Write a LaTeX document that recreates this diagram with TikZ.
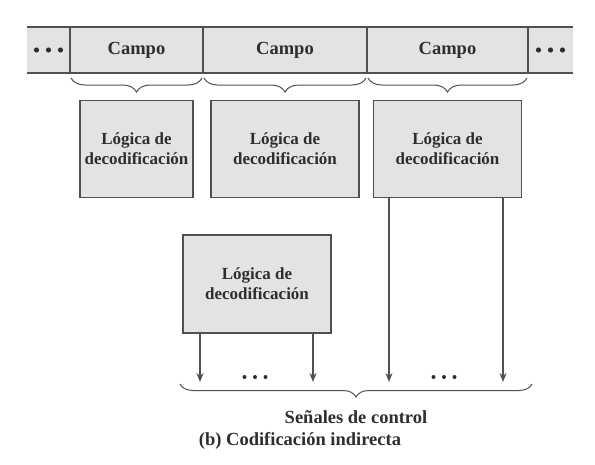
\documentclass[tikz,border=0pt]{standalone}
\usepackage{fontspec}
\setmainfont{Liberation Serif}
\usetikzlibrary{arrows.meta,calc,positioning,decorations.pathreplacing}
\definecolor{linegray}{HTML}{505050}
\definecolor{boxgray}{HTML}{E3E3E3}
\definecolor{textgray}{HTML}{2E2E2E}

\begin{document}
\begin{tikzpicture}[x=1pt,y=-1pt,>={Stealth[length=9pt,width=7pt]},node distance=27pt,
	every node/.style={font=\bfseries\fontsize{18.5}{21}\selectfont,text=textgray},
	field/.style={draw=linegray,line width=1.2pt,fill=boxgray,minimum height=46pt,inner sep=0pt,outer sep=0pt},
	dotfield/.style={fill=boxgray,minimum height=46pt,inner sep=0pt,outer sep=0pt},
	logic/.style={draw=linegray,line width=1.3pt,fill=boxgray,minimum width=148pt,minimum height=97pt,
		align=center,inner sep=2pt,font=\bfseries\fontsize{17}{20}\selectfont},
	fieldbrace/.style={decorate,decoration={brace,mirror,amplitude=#1},draw=linegray,line width=1pt},
	signal/.style={->,draw=linegray,line width=1.4pt}]
		\useasboundingbox (0,0) rectangle (595,464);
		% palabra de control
		\node[dotfield,minimum width=43pt] (d1) at (48.5,50) {};
		\node[dotfield,minimum width=45pt] (d2) at (550.5,50) {};
		\node[field,minimum width=133pt,right=0pt of d1] (f1) {Campo};
		\node[field,minimum width=164pt,right=0pt of f1] (f2) {Campo};
		\node[field,minimum width=161pt,right=0pt of f2] (f3) {Campo};
		\draw[linegray,line width=1.2pt] (d1.north west) -- (d2.north east)
			(d1.south west) -- (d2.south east);
		\foreach \n in {d1,d2}
			\foreach \k in {-1,0,1}
				\fill[textgray] ($(\n.center)+(\k*12,0)$) circle (2.6pt);
		\foreach \n in {f1,f2,f3}
			\draw[fieldbrace=14pt] ($(\n.south west)+(1,5)$) -- ($(\n.south east)+(-1,5)$);
		% logica de decodificacion
		\node[logic,minimum width=113pt] [below=of f1] (l1) {Lógica de\\decodificación};
		\node[logic] [below=of f2] (l2) {Lógica de\\decodificación};
		\node[logic] [below=of f3] (l3) {Lógica de\\decodificación};
		\node[logic,minimum height=98pt] (l4) at (257,284) {Lógica de\\decodificación};
		% senales de control
		\coordinate (s1) at (200,382);
		\coordinate (s2) at (313,382);
		\coordinate (s3) at (389,382);
		\coordinate (s4) at (503,382);
		\draw[signal] (l4.south -| s1) -- (s1);
		\draw[signal] (l4.south -| s2) -- (s2);
		\draw[signal] (l3.south -| s3) -- (s3);
		\draw[signal] (l3.south -| s4) -- (s4);
		\coordinate (g1) at (255,377);
		\coordinate (g2) at (444,377);
		\foreach \n in {g1,g2}
			\foreach \k in {-1,0,1}
				\fill[textgray] ($(\n)+(\k*10.5,0)$) circle (2pt);
		\coordinate (b1) at (180,384);
		\coordinate (b2) at (532,384);
		\draw[fieldbrace=13pt] (b1) -- (b2);
		\node (sig) at (356,417) {Señales de control};
		\node (cap) at (300,441) {(b) Codificación indirecta};
	\end{tikzpicture}
\end{document}
